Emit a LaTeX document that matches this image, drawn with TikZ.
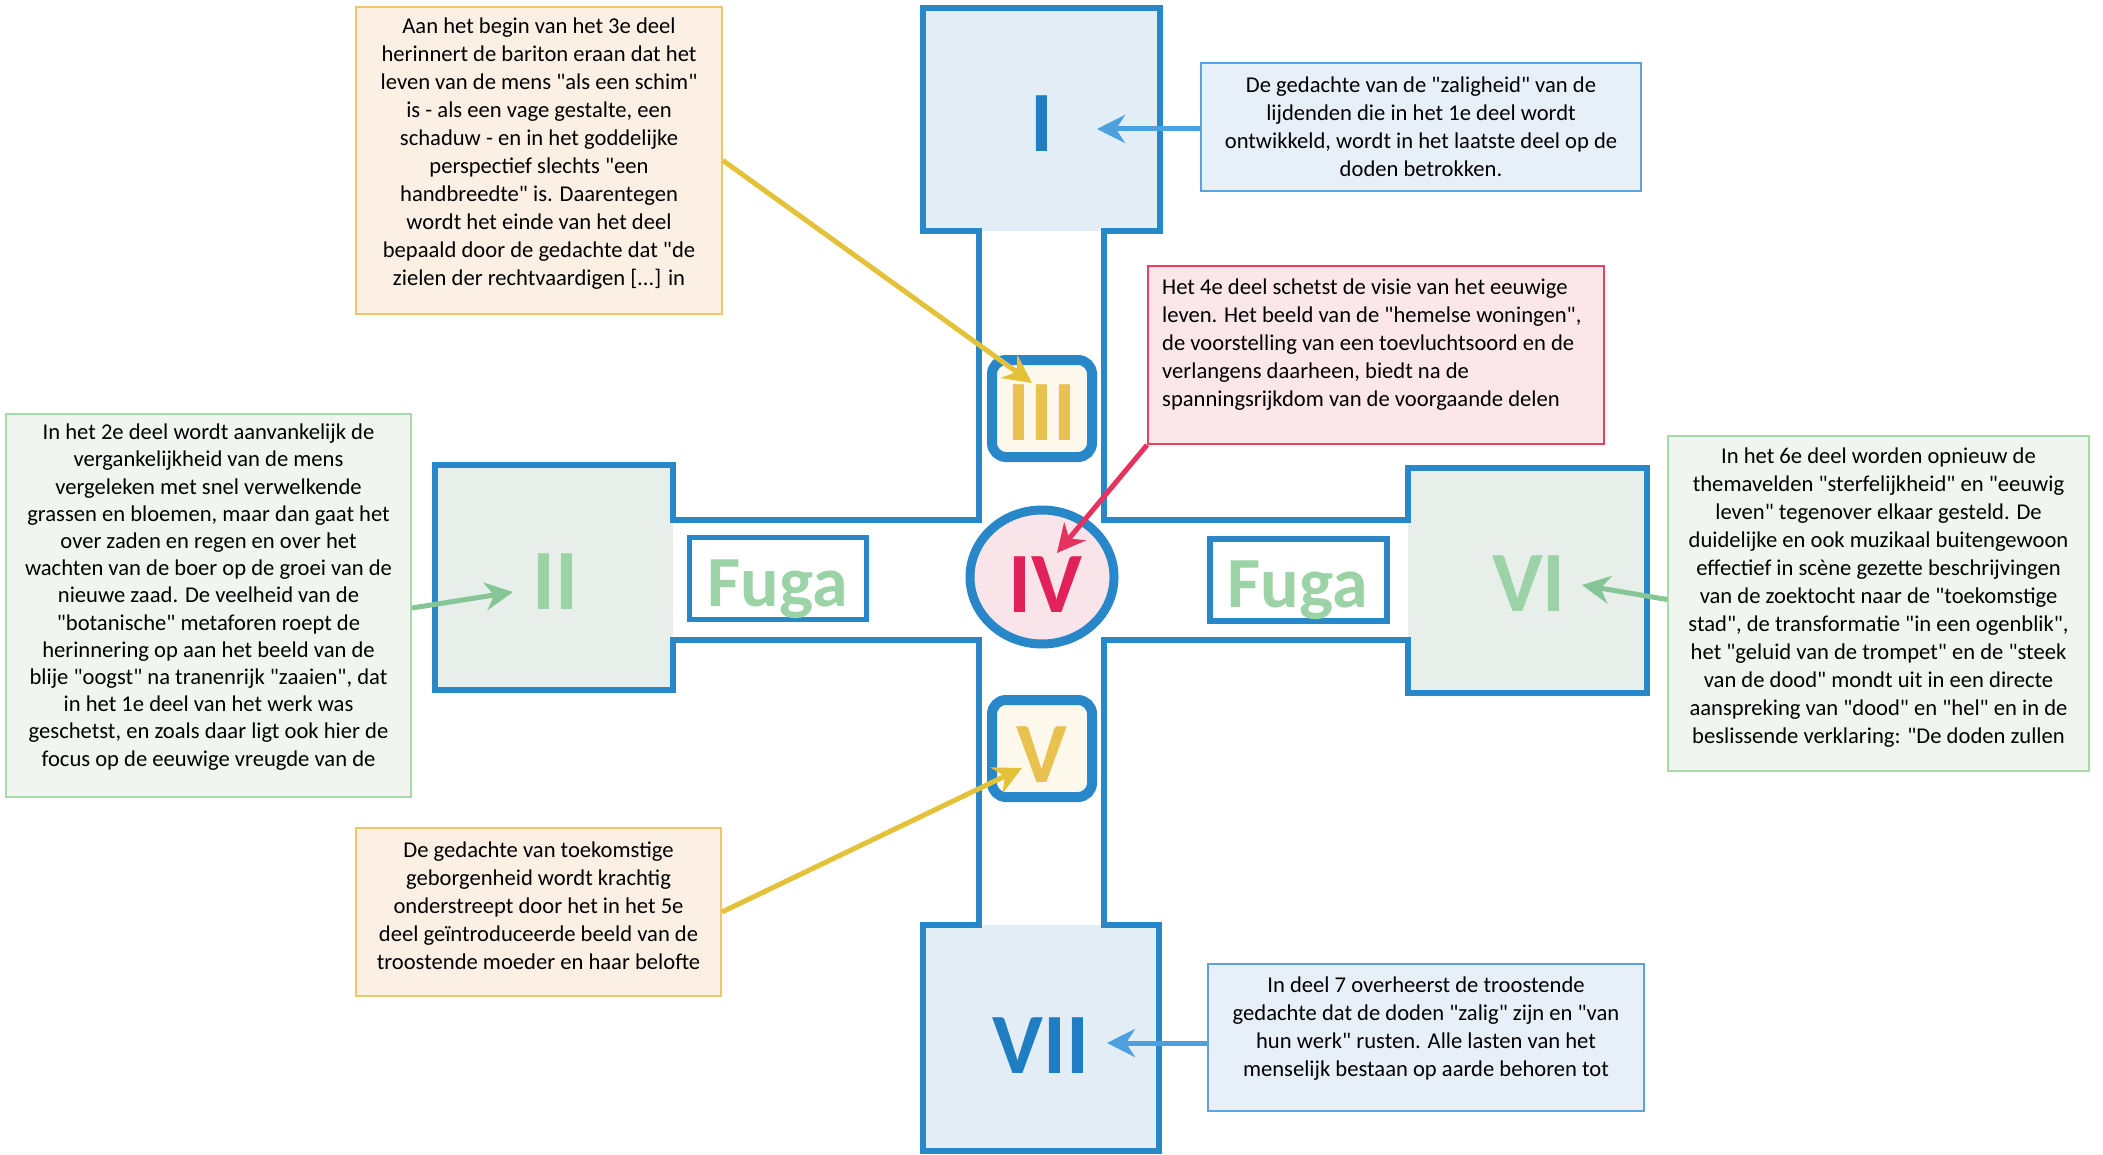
\documentclass[tikz,border=0pt]{standalone}
\usepackage{fontspec}
\setmainfont{Carlito}[Ligatures=TeXOff]
\usetikzlibrary{arrows.meta,shapes.geometric}
\definecolor{crossblue}{HTML}{2887C8}
\definecolor{boxbluefill}{HTML}{E3EDF5}
\definecolor{boxgreenfill}{HTML}{E8EFEB}
\definecolor{numblue}{HTML}{1F7EC1}
\definecolor{numgreen}{HTML}{9CD3A6}
\definecolor{numgold}{HTML}{E9C14F}
\definecolor{numred}{HTML}{E0215A}
\definecolor{creamfill}{HTML}{FCF8EC}
\definecolor{pinkfill}{HTML}{F9E4EA}
\definecolor{orangeborder}{HTML}{F0C66A}
\definecolor{orangefill}{HTML}{FCF0E4}
\definecolor{redborder}{HTML}{E8405E}
\definecolor{redfill}{HTML}{FBE6EA}
\definecolor{greenborder}{HTML}{A9D8A9}
\definecolor{greenfill}{HTML}{F0F6EF}
\definecolor{blueborder}{HTML}{5BA3DC}
\definecolor{bluefill}{HTML}{E7F0F8}
\definecolor{arrblue}{HTML}{4BA0DD}
\definecolor{arrgold}{HTML}{E3C23A}
\definecolor{arrred}{HTML}{E6325E}
\definecolor{arrgreen}{HTML}{86C596}
\begin{document}
\begin{tikzpicture}[x=1pt,y=-1pt,
  crossline/.style={draw=crossblue,line width=5.5pt,line join=miter},
  notebox/.style={rectangle,line width=2pt,inner sep=0pt},
  notetext/.style={inner sep=0pt,font=\fontsize{22.6}{28}\selectfont},
  numeral/.style={inner sep=0pt,font=\fontsize{86}{86}\selectfont\bfseries},
  fugatext/.style={inner sep=0pt,text=numgreen,font=\fontsize{72}{72}\selectfont\bfseries},
  fugabox/.style={rectangle,draw=crossblue,fill=white,line width=5.5pt,inner sep=0pt,minimum width=177pt,minimum height=82pt},
  numbox/.style={rectangle,rounded corners=14pt,draw=crossblue,fill=creamfill,line width=10pt,inner sep=0pt,minimum width=100pt,minimum height=97pt},
  pointer/.style={line width=5pt,-{Stealth[length=28pt,width=28pt,inset=9pt]}}
]
\useasboundingbox (0,0) rectangle (2103,1155);
\fill[white] (0,0) rectangle (2103,1155);

% fills of the four square boxes of the cross
\fill[boxbluefill] (923,8) rectangle (1160,231);
\fill[boxbluefill] (923,925) rectangle (1159,1151);
\fill[boxgreenfill] (435,465) rectangle (673,690);
\fill[boxgreenfill] (1408,468) rectangle (1647,693);

% cross outline
\draw[crossline] (923,8) -- (1160,8) -- (1160,231) -- (1104,231) -- (1104,520)
  -- (1408,520) -- (1408,468) -- (1647,468) -- (1647,693) -- (1408,693) -- (1408,640)
  -- (1104,640) -- (1104,925) -- (1159,925) -- (1159,1151) -- (923,1151) -- (923,925)
  -- (979,925) -- (979,640) -- (673,640) -- (673,690) -- (435,690) -- (435,465)
  -- (673,465) -- (673,520) -- (979,520) -- (979,231) -- (923,231) -- cycle;

% inner shapes
\node[fugabox] (fugaboxL) at (778,578.5) {};
\node[fugabox] (fugaboxR) at (1298.5,580) {};
\node[numbox] (boxIII) at (1042,408.5) {};
\node[numbox] (boxV) at (1042,748.5) {};
\node[ellipse,draw=crossblue,fill=pinkfill,line width=9pt,inner sep=0pt,minimum width=144pt,minimum height=134pt] (circIV) at (1042,577) {};

% numerals
\node[numeral,text=numblue,anchor=base] (nI) at (1042,152) {I};
\node[numeral,text=numgreen,anchor=base] (nII) at (555,609) {II};
\node[numeral,text=numgold,anchor=base] (nIII) at (1042,440) {III};
\node[numeral,text=numred,anchor=base] (nIV) at (1045,612) {IV};
\node[numeral,text=numgold,anchor=base] (nV) at (1042,782) {V};
\node[numeral,text=numgreen,anchor=base] (nVI) at (1529,611) {VI};
\node[numeral,text=numblue,anchor=base] (nVII) at (1041,1073) {VII};
\node[fugatext,anchor=base] (fugaL) at (778,606) {Fuga};
\node[fugatext,anchor=base] (fugaR) at (1298,607) {Fuga};

% note boxes
\node[notebox,draw=orangeborder,fill=orangefill,minimum width=366pt,minimum height=307pt] (noteIII) at (539,160.5) {};
\node[notetext,align=center] (textIII) at (539,153.5) {Aan het begin van het 3e deel\\herinnert de bariton eraan dat het\\leven van de mens "als een schim"\\is - als een vage gestalte, een\\schaduw - en in het goddelijke\\perspectief slechts "een\\handbreedte" is. Daarentegen\\wordt het einde van het deel\\bepaald door de gedachte dat "de\\zielen der rechtvaardigen [...] in};

\node[notebox,draw=blueborder,fill=bluefill,minimum width=440pt,minimum height=128pt] (noteI) at (1421,127) {};
\node[notetext,align=center] (textI) at (1421,127) {De gedachte van de "zaligheid" van de\\lijdenden die in het 1e deel wordt\\ontwikkeld, wordt in het laatste deel op de\\doden betrokken.};

\node[notebox,draw=redborder,fill=redfill,minimum width=456pt,minimum height=178pt] (noteIV) at (1376,355) {};
\node[notetext,align=left,anchor=west] (textIV) at (1162,345) {Het 4e deel schetst de visie van het eeuwige\\leven. Het beeld van de "hemelse woningen",\\de voorstelling van een toevluchtsoord en de\\verlangens daarheen, biedt na de\\spanningsrijkdom van de voorgaande delen};

\node[notebox,draw=greenborder,fill=greenfill,minimum width=405pt,minimum height=383pt] (noteII) at (208.5,605.5) {};
\node[notetext,align=center,font=\fontsize{22.6}{27.2}\selectfont] (textII) at (208.5,597) {In het 2e deel wordt aanvankelijk de\\vergankelijkheid van de mens\\vergeleken met snel verwelkende\\grassen en bloemen, maar dan gaat het\\over zaden en regen en over het\\wachten van de boer op de groei van de\\nieuwe zaad. De veelheid van de\\"botanische" metaforen roept de\\herinnering op aan het beeld van de\\blije "oogst" na tranenrijk "zaaien", dat\\in het 1e deel van het werk was\\geschetst, en zoals daar ligt ook hier de\\focus op de eeuwige vreugde van de};

\node[notebox,draw=greenborder,fill=greenfill,minimum width=421pt,minimum height=335pt] (noteVI) at (1878.5,603.5) {};
\node[notetext,align=center] (textVI) at (1878.5,598) {In het 6e deel worden opnieuw de\\themavelden "sterfelijkheid" en "eeuwig\\leven" tegenover elkaar gesteld. De\\duidelijke en ook muzikaal buitengewoon\\effectief in scène gezette beschrijvingen\\van de zoektocht naar de "toekomstige\\stad", de transformatie "in een ogenblik",\\het "geluid van de trompet" en de "steek\\van de dood" mondt uit in een directe\\aanspreking van "dood" en "hel" en in de\\beslissende verklaring: "De doden zullen};

\node[notebox,draw=orangeborder,fill=orangefill,minimum width=365pt,minimum height=168pt] (noteV) at (538.5,912) {};
\node[notetext,align=center] (textV) at (538.5,905.5) {De gedachte van toekomstige\\geborgenheid wordt krachtig\\onderstreept door het in het 5e\\deel geïntroduceerde beeld van de\\troostende moeder en haar belofte};

\node[notebox,draw=blueborder,fill=bluefill,minimum width=436pt,minimum height=147pt] (noteVII) at (1426,1037.5) {};
\node[notetext,align=center] (textVII) at (1426,1028.5) {In deel 7 overheerst de troostende\\gedachte dat de doden "zalig" zijn en "van\\hun werk" rusten. Alle lasten van het\\menselijk bestaan op aarde behoren tot};

% arrow tips
\coordinate (tipI) at (1097,129);
\coordinate (tipIII) at (1032,383);
\coordinate (tipIV) at (1057,553);
\coordinate (tipII) at (513,592);
\coordinate (tipVI) at (1582,585);
\coordinate (tipV) at (1022,768);
\coordinate (tipVII) at (1107,1043);

% connectors
\draw[pointer,arrblue] ([yshift=-2pt]noteI.west) -- (tipI);
\draw[pointer,arrgold] (noteIII.east) -- (tipIII);
\draw[pointer,arrred] (noteIV.south west) -- (tipIV);
\draw[pointer,arrgreen] ([yshift=-2.5pt]noteII.east) -- (tipII);
\draw[pointer,arrgreen] ([yshift=4pt]noteVI.west) -- (tipVI);
\draw[pointer,arrgold] (noteV.east) -- (tipV);
\draw[pointer,arrblue] ([yshift=-5.5pt]noteVII.west) -- (tipVII);
\end{tikzpicture}
\end{document}
